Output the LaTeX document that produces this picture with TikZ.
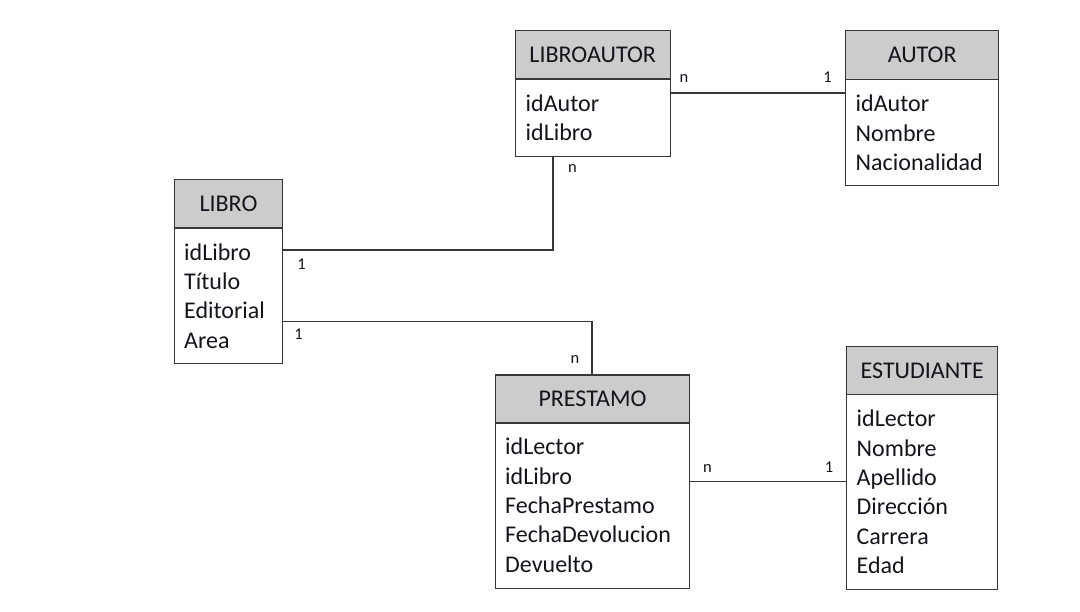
\documentclass[tikz,border=0pt]{standalone}
\usepackage{fontspec}
\setmainfont{Carlito}
\definecolor{hdrgray}{RGB}{204,204,204}
\definecolor{linec}{RGB}{55,55,55}
\definecolor{txtc}{RGB}{20,20,28}
\newcommand\hfnt{\fontsize{24}{29.3}\selectfont}
\newcommand\lfnt{\fontsize{16.5}{19}\selectfont}
\tikzset{
  hdr/.style={draw=linec, fill=hdrgray, line width=1.4pt, inner sep=0pt, anchor=north west, font=\hfnt, text=txtc},
  bodybox/.style={draw=linec, fill=white, line width=1.4pt, inner sep=0pt, anchor=north west},
  attr/.style={anchor=north west, align=left, inner sep=0pt, font=\hfnt, text=txtc},
  card/.style={anchor=base, inner sep=0pt, font=\lfnt, text=txtc},
  conn/.style={draw=linec, line width=1.4pt}
}
\begin{document}
\begin{tikzpicture}[x=1pt,y=-1pt]
\useasboundingbox[fill=white] (0,0) rectangle (1080,612);

% LIBROAUTOR
\node[bodybox, minimum width=155pt, minimum height=77.5pt] (laB) at (514.5,78.5) {};
\node[hdr, minimum width=155pt, minimum height=48.5pt] (laH) at (514.5,30) {LIBROAUTOR};
\node[attr] (laA) at (525.5,94.5) {idAutor\\idLibro};

% AUTOR
\node[bodybox, minimum width=153pt, minimum height=106pt] (auB) at (845,79) {};
\node[hdr, minimum width=153pt, minimum height=49pt] (auH) at (845,30) {AUTOR};
\node[attr] (auA) at (855.5,95) {idAutor\\Nombre\\Nacionalidad};

% LIBRO
\node[bodybox, minimum width=107.5pt, minimum height=135.5pt] (liB) at (174,227.5) {};
\node[hdr, minimum width=107.5pt, minimum height=48.5pt] (liH) at (174,179) {LIBRO};
\node[attr] (liA) at (184,243.3) {idLibro\\Título\\Editorial\\Area};

% PRESTAMO
\node[bodybox, minimum width=194.5pt, minimum height=165.5pt] (prB) at (494.5,422.5) {};
\node[hdr, minimum width=194.5pt, minimum height=48pt] (prH) at (494.5,374.5) {PRESTAMO};
\node[attr] (prA) at (505,438) {idLector\\idLibro\\FechaPrestamo\\FechaDevolucion\\Devuelto};

% ESTUDIANTE
\node[bodybox, minimum width=151pt, minimum height=195pt] (esB) at (846,394) {};
\node[hdr, minimum width=151pt, minimum height=48pt] (esH) at (846,346) {ESTUDIANTE};
\node[attr] (esA) at (856.5,410) {idLector\\Nombre\\Apellido\\Dirección\\Carrera\\Edad};

% connector anchor points
\coordinate (c1) at ([yshift=-14.5pt]laB.north east);
\coordinate (c2) at ([yshift=-22.5pt]liB.north east);
\coordinate (c3) at ([xshift=38.5pt]laB.south west);
\coordinate (c4) at ([yshift=-94pt]liB.north east);
\coordinate (c5) at ([xshift=97.5pt]prH.north west);
\coordinate (c6) at ([yshift=-59.2pt]prB.north east);

\draw[conn] (c1) -- (c1 -| auB.west);
\draw[conn] (c2) -| (c3);
\draw[conn] (c4) -| (c5);
\draw[conn] (c6) -- (c6 -| esB.west);

% cardinalities
\node[card] (k1) at (684,83) {n};
\node[card] (k2) at (827.5,83) {1};
\node[card] (k3) at (572.5,172.7) {n};
\node[card] (k4) at (301.5,270) {1};
\node[card] (k5) at (298.5,340) {1};
\node[card] (k6) at (575,363.3) {n};
\node[card] (k7) at (707.5,472) {n};
\node[card] (k8) at (829,472) {1};
\end{tikzpicture}
\end{document}
